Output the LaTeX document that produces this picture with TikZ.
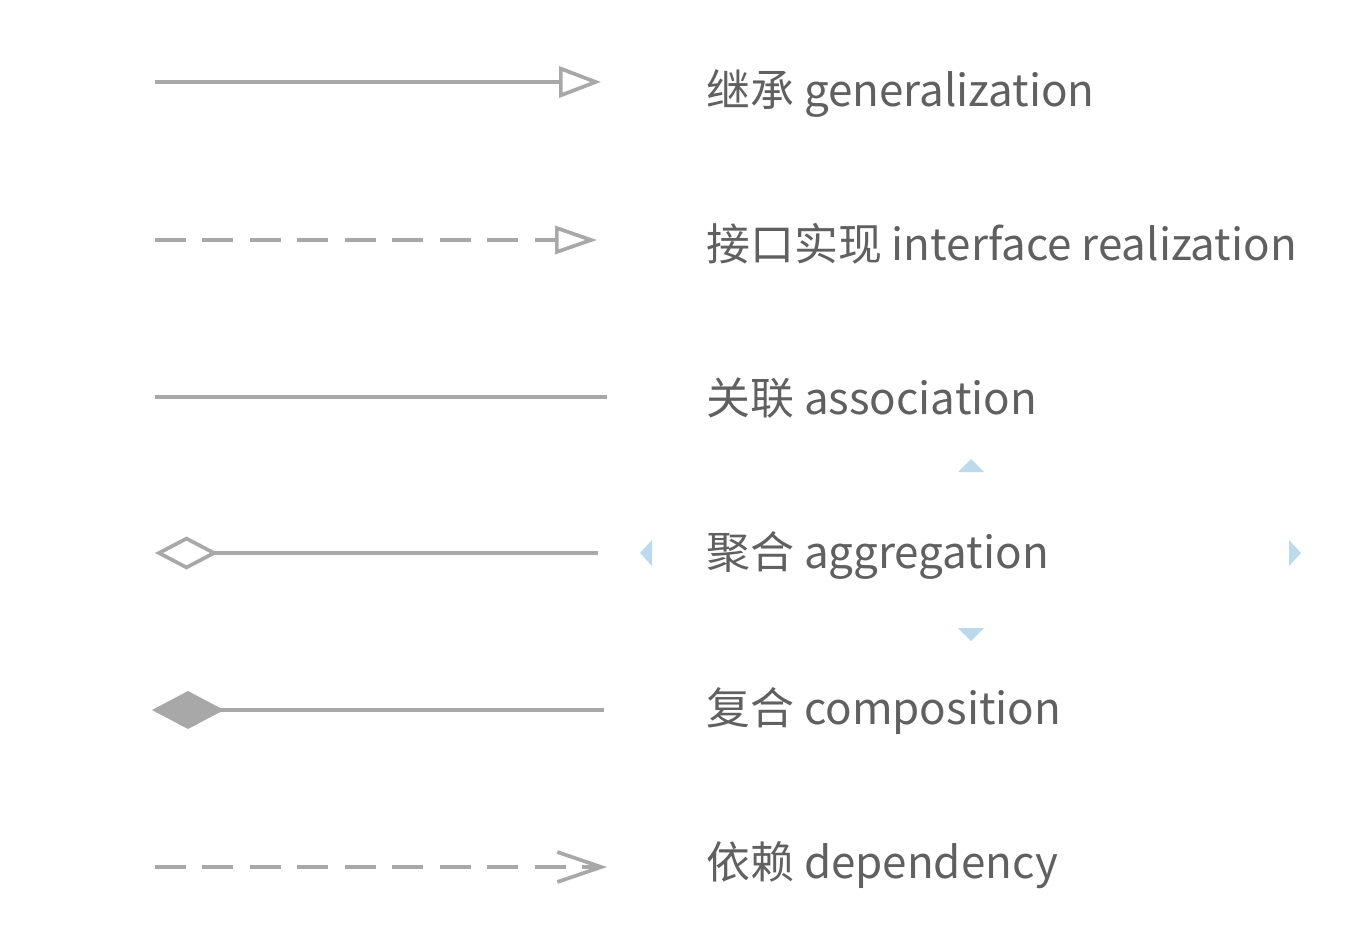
\documentclass[tikz,border=0pt]{standalone}
\usepackage{fontspec}
\newfontfamily\figcjk{Noto Sans CJK SC}
\usetikzlibrary{arrows.meta}
\definecolor{figLine}{RGB}{168,168,168}
\definecolor{figText}{RGB}{96,96,96}
\definecolor{figHandle}{RGB}{188,218,235}
\definecolor{figWhite}{RGB}{255,255,255}
\tikzset{
  figrel/.style={draw=figLine,line width=2.1pt},
  figdash/.style={figrel,dash pattern=on 0.62cm off 0.33cm},
  figgen/.style={-{Triangle[open,length=0.84cm,width=0.62cm]}},
  figreal/.style={-{Triangle[open,length=0.84cm,width=0.56cm]}},
  figagg/.style={{Diamond[open,length=1.26cm,width=0.66cm]}-},
  figcomp/.style={{Diamond[fill=figLine,length=1.44cm,width=0.76cm]}-},
  figdep/.style={-{Straight Barb[length=0.88cm,width=0.6cm]}},
  figlabel/.style={anchor=base west,inner sep=0pt,text=figText,font=\figcjk\fontsize{25}{29}\selectfont},
  fighandle/.style={fill=figHandle,draw=none},
}

\begin{document}
\begin{tikzpicture}[x=0.02cm,y=-0.02cm]
% Overall dimensions: 1366 x 924 px, y grows downward.
\useasboundingbox[fill=figWhite] (0,0) rectangle (1366,924);

% Line ends of the six relation samples.
\coordinate (genS) at (155,82);   \coordinate (genE) at (601,82);
\coordinate (realS) at (155,240); \coordinate (realE) at (597,240);
\coordinate (assoS) at (155,397); \coordinate (assoE) at (607,397);
\coordinate (aggS) at (155,553);  \coordinate (aggE) at (598,553);
\coordinate (compS) at (152,710); \coordinate (compE) at (604,710);
\coordinate (depS) at (155,867);  \coordinate (depE) at (607,867);

\draw[figrel,figgen] (genS) -- (genE);
\draw[figdash,figreal] (realS) -- (realE);
\draw[figrel] (assoS) -- (assoE);
\draw[figrel,figagg] (aggS) -- (aggE);
\draw[figrel,figcomp] (compS) -- (compE);
\draw[figdash,figdep] (depS) -- (depE);

% Labels, one per row.
\node[figlabel] (genL) at (706,106) {继承 generalization};
\node[figlabel] (realL) at (706,260) {接口实现 interface realization};
\node[figlabel] (assoL) at (706,414) {关联 association};
\node[figlabel] (aggL) at (706,568) {聚合 aggregation};
\node[figlabel] (compL) at (706,724) {复合 composition};
\node[figlabel] (depL) at (706,878) {依赖 dependency};

% Selection handles round the aggregation label.
\fill[fighandle] (958,472) -- (984,472) -- (971,459) -- cycle;
\fill[fighandle] (958,628) -- (984,628) -- (971,641) -- cycle;
\fill[fighandle] (652,540) -- (652,566) -- (640,553) -- cycle;
\fill[fighandle] (1289,540) -- (1289,566) -- (1301,553) -- cycle;
\end{tikzpicture}
\end{document}
